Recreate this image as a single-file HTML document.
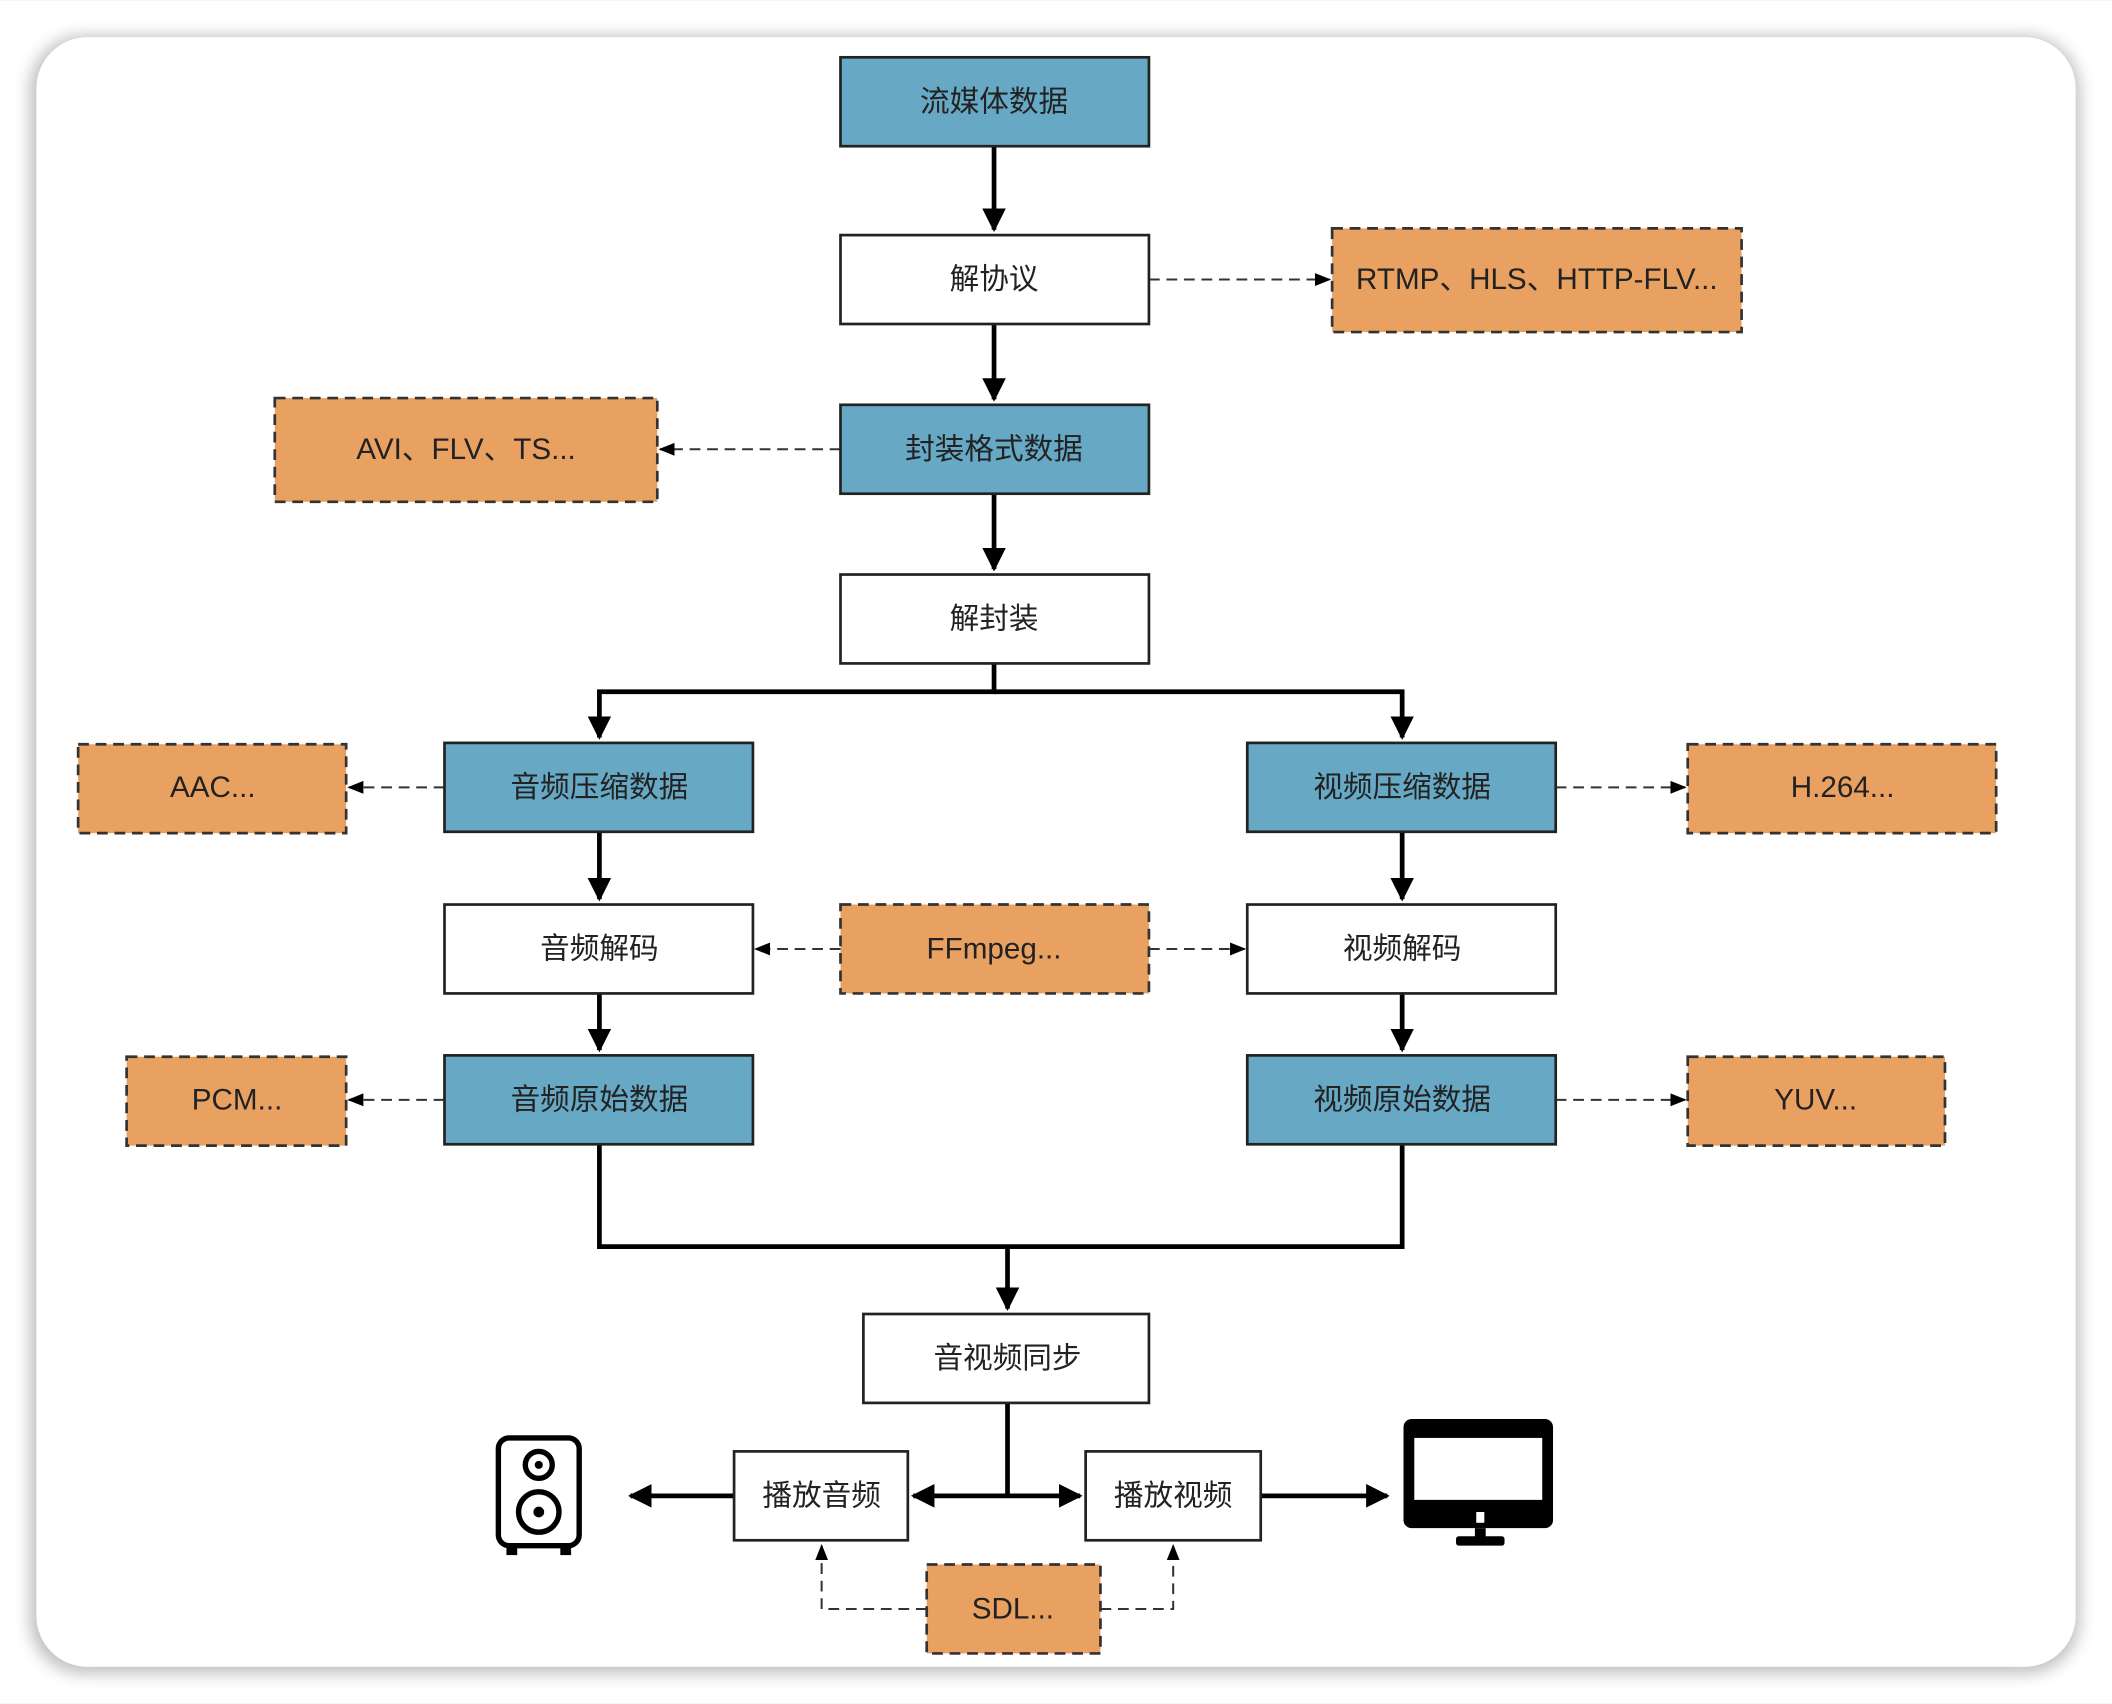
<!DOCTYPE html>
<html><head><meta charset="utf-8"><style>
html,body{margin:0;padding:0;background:#f3f3f3;}
svg{display:block}
text{font-family:"Liberation Sans","Noto Sans CJK SC",sans-serif;font-size:22px;fill:#222;text-anchor:middle;dominant-baseline:central}
</style></head><body>
<svg width="2112" height="1704" viewBox="0 0 1568 1264" xmlns="http://www.w3.org/2000/svg">
<defs>
<filter id="sh" x="-5%" y="-5%" width="110%" height="110%"><feGaussianBlur stdDeviation="6"/></filter>
<marker id="ab" viewBox="0 0 10 10" refX="9" refY="5" markerWidth="5" markerHeight="5" orient="auto-start-reverse"><path d="M0,0L10,5L0,10z" fill="#000"/></marker>
<marker id="as" viewBox="0 0 10 10" refX="9" refY="5" markerWidth="8" markerHeight="8" orient="auto-start-reverse"><path d="M0,1L10,5L0,9z" fill="#000"/></marker>
</defs>
<rect x="0" y="0" width="1568" height="1264" fill="#fff"/>
<rect x="22" y="26" width="1522" height="1216" rx="40" fill="#000" opacity="0.25" filter="url(#sh)"/>
<rect x="27" y="27" width="1514" height="1210" rx="38" fill="#fff"/>
<g stroke="#000" stroke-width="3.5" fill="none">
<line x1="738" y1="108" x2="738" y2="170" marker-end="url(#ab)"/>
<line x1="738" y1="240" x2="738" y2="296" marker-end="url(#ab)"/>
<line x1="738" y1="366" x2="738" y2="422" marker-end="url(#ab)"/>
<path d="M738,492V513H445V547" marker-end="url(#ab)"/>
<path d="M738,513H1041V547" marker-end="url(#ab)"/>
<line x1="445" y1="617" x2="445" y2="667" marker-end="url(#ab)"/>
<line x1="445" y1="737" x2="445" y2="779" marker-end="url(#ab)"/>
<line x1="1041" y1="617" x2="1041" y2="667" marker-end="url(#ab)"/>
<line x1="1041" y1="737" x2="1041" y2="779" marker-end="url(#ab)"/>
<path d="M445,849V925H1041V849"/>
<line x1="748" y1="925" x2="748" y2="971" marker-end="url(#ab)"/>
<line x1="748" y1="1041" x2="748" y2="1110"/>
<line x1="678" y1="1110" x2="802" y2="1110" marker-start="url(#ab)" marker-end="url(#ab)"/>
<line x1="545" y1="1110" x2="468" y2="1110" marker-end="url(#ab)"/>
<line x1="936" y1="1110" x2="1030" y2="1110" marker-end="url(#ab)"/>
</g>
<g stroke="#333" stroke-width="1.5" fill="none" stroke-dasharray="8,5">
<line x1="853" y1="207" x2="987" y2="207" marker-end="url(#as)"/>
<line x1="624" y1="333" x2="490" y2="333" marker-end="url(#as)"/>
<line x1="330" y1="584" x2="259" y2="584" marker-end="url(#as)"/>
<line x1="1155" y1="584" x2="1251" y2="584" marker-end="url(#as)"/>
<line x1="624" y1="704" x2="561" y2="704" marker-end="url(#as)"/>
<line x1="853" y1="704" x2="924" y2="704" marker-end="url(#as)"/>
<line x1="330" y1="816" x2="259" y2="816" marker-end="url(#as)"/>
<line x1="1155" y1="816" x2="1251" y2="816" marker-end="url(#as)"/>
<path d="M688,1194H610V1147" marker-end="url(#as)"/>
<path d="M817,1194H871V1147" marker-end="url(#as)"/>
</g>
<g stroke="#222" stroke-width="2">
<rect x="624" y="42" width="229" height="66" fill="#67a9c5"/>
<rect x="624" y="174" width="229" height="66" fill="#fff"/>
<rect x="624" y="300" width="229" height="66" fill="#67a9c5"/>
<rect x="624" y="426" width="229" height="66" fill="#fff"/>
<rect x="330" y="551" width="229" height="66" fill="#67a9c5"/>
<rect x="926" y="551" width="229" height="66" fill="#67a9c5"/>
<rect x="330" y="671" width="229" height="66" fill="#fff"/>
<rect x="926" y="671" width="229" height="66" fill="#fff"/>
<rect x="330" y="783" width="229" height="66" fill="#67a9c5"/>
<rect x="926" y="783" width="229" height="66" fill="#67a9c5"/>
<rect x="641" y="975" width="212" height="66" fill="#fff"/>
<rect x="545" y="1077" width="129" height="66" fill="#fff"/>
<rect x="806" y="1077" width="130" height="66" fill="#fff"/>
</g>
<g stroke="#333" stroke-width="2" stroke-dasharray="8,5" fill="#e9a162">
<rect x="989" y="169" width="304" height="77"/>
<rect x="204" y="295" width="284" height="77"/>
<rect x="58" y="552" width="199" height="66"/>
<rect x="1253" y="552" width="229" height="66"/>
<rect x="624" y="671" width="229" height="66"/>
<rect x="94" y="784" width="163" height="66"/>
<rect x="1253" y="784" width="191" height="66"/>
<rect x="688" y="1161" width="129" height="66"/>
</g>
<text x="738" y="75">流媒体数据</text>
<text x="738" y="207">解协议</text>
<text x="1141" y="207">RTMP、HLS、HTTP-FLV...</text>
<text x="738" y="333">封装格式数据</text>
<text x="346" y="333">AVI、FLV、TS...</text>
<text x="738" y="459">解封装</text>
<text x="445" y="584">音频压缩数据</text>
<text x="158" y="584">AAC...</text>
<text x="1041" y="584">视频压缩数据</text>
<text x="1368" y="584">H.264...</text>
<text x="445" y="704">音频解码</text>
<text x="738" y="704">FFmpeg...</text>
<text x="1041" y="704">视频解码</text>
<text x="445" y="816">音频原始数据</text>
<text x="176" y="816">PCM...</text>
<text x="1041" y="816">视频原始数据</text>
<text x="1348" y="816">YUV...</text>
<text x="748" y="1008">音视频同步</text>
<text x="610" y="1110">播放音频</text>
<text x="871" y="1110">播放视频</text>
<text x="752" y="1194">SDL...</text>
<g fill="none" stroke="#000" stroke-width="4">
<rect x="370" y="1067" width="60" height="80" rx="8"/>
<circle cx="400" cy="1087" r="10"/>
<circle cx="400" cy="1122" r="15"/>
</g>
<circle cx="400" cy="1087" r="3" fill="#000"/>
<circle cx="400" cy="1122" r="4" fill="#000"/>
<rect x="376" y="1147" width="8" height="7" fill="#000"/>
<rect x="416" y="1147" width="8" height="7" fill="#000"/>
<rect x="1042" y="1053" width="111" height="81" rx="6" fill="#000"/>
<rect x="1050" y="1067" width="95" height="46" fill="#fff"/>
<rect x="1096" y="1122" width="6" height="8" fill="#fff"/>
<rect x="1095" y="1134" width="8" height="8" fill="#000"/>
<rect x="1081" y="1140" width="36" height="7" rx="2" fill="#000"/>
</svg>
</body></html>
